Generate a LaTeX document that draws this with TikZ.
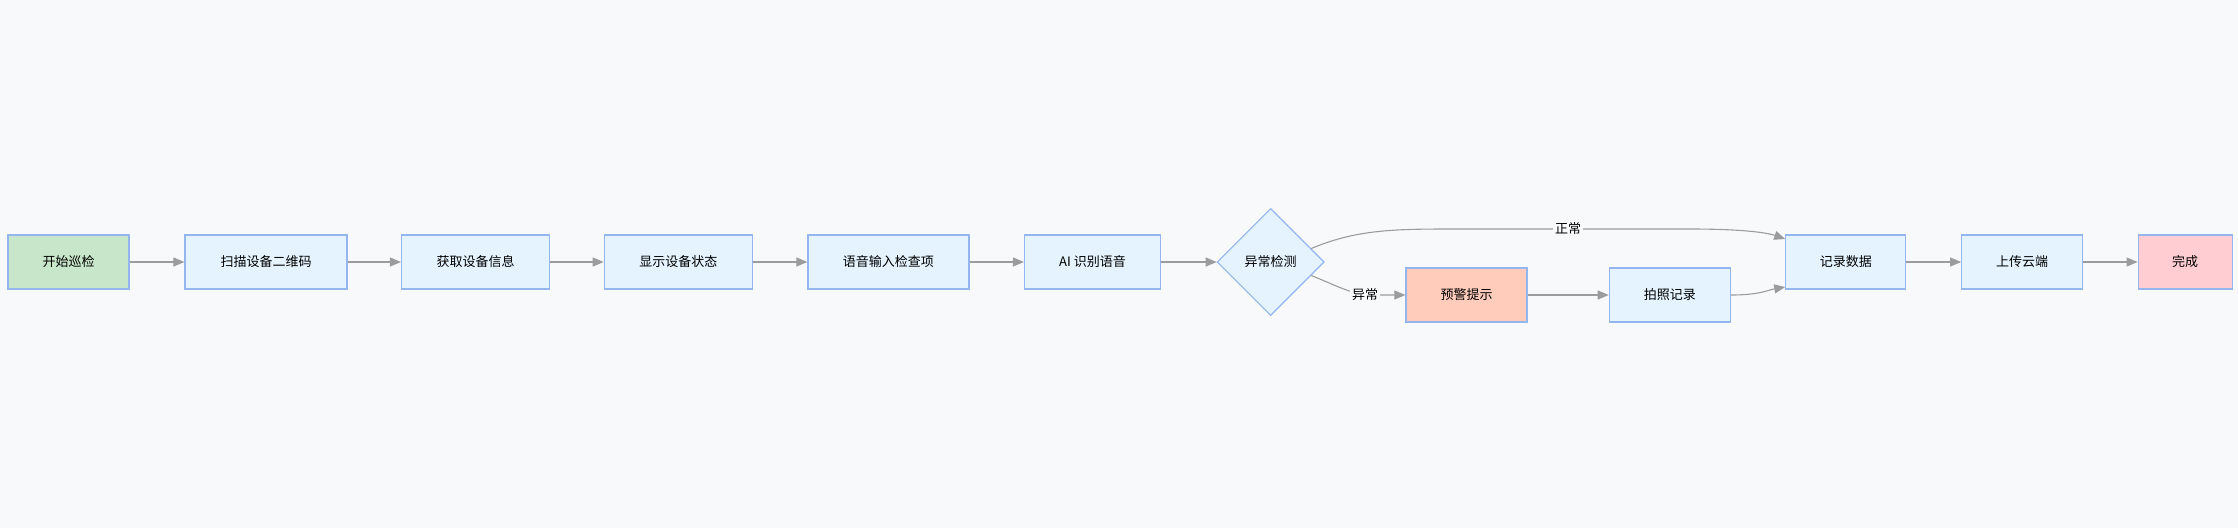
\documentclass[tikz,border=0pt]{standalone}
\usepackage{fontspec}
\setmainfont{Noto Sans CJK SC}
\usetikzlibrary{shapes.geometric,arrows.meta,calc}
\definecolor{bgc}{HTML}{F8F9FB}
\definecolor{boxfill}{HTML}{E4F3FD}
\definecolor{boxline}{HTML}{93B6EE}
\definecolor{startfill}{HTML}{C8E6C9}
\definecolor{alertfill}{HTML}{FFCCBC}
\definecolor{donefill}{HTML}{FFCDD2}
\definecolor{arrowc}{HTML}{9C9C9C}
\tikzset{
  box/.style={draw=boxline, line width=1.2pt, fill=boxfill, minimum height=54pt, inner sep=0pt, font=\fontsize{13}{15}\selectfont},
  dec/.style={diamond, draw=boxline, line width=1.1pt, fill=boxfill, minimum width=107pt, minimum height=107pt, inner sep=0pt, font=\fontsize{13}{15}\selectfont},
  conn/.style={draw=arrowc, line width=1.1pt, -{Triangle[length=11pt,width=9pt]}},
  lbl/.style={fill=bgc, inner sep=2pt, font=\fontsize{13}{15}\selectfont}
}
\begin{document}
\begin{tikzpicture}[x=1pt,y=-1pt]
\fill[bgc] (0,0) rectangle (2238,528);
\useasboundingbox (0,0) rectangle (2238,528);
\node[box, fill=startfill, minimum width=121pt] (start) at (68.5,262) {开始巡检};
\node[box, minimum width=162pt] (scan) at (266,262) {扫描设备二维码};
\node[box, minimum width=148pt] (info) at (475.5,262) {获取设备信息};
\node[box, minimum width=148pt] (show) at (678.3,262) {显示设备状态};
\node[box, minimum width=161pt] (voice) at (888.4,262) {语音输入检查项};
\node[box, minimum width=136pt] (ai) at (1092.5,262) {AI 识别语音};
\node[dec] (chk) at (1270.7,262) {异常检测};
\node[box, fill=alertfill, minimum width=121pt] (alert) at (1466.5,295) {预警提示};
\node[box, minimum width=121pt] (photo) at (1669.8,295) {拍照记录};
\node[box, minimum width=120pt] (rec) at (1845.8,262) {记录数据};
\node[box, minimum width=121pt] (up) at (2022.2,262) {上传云端};
\node[box, fill=donefill, minimum width=94pt] (done) at (2185.2,262) {完成};

\draw[conn] (start) -- (scan);
\draw[conn] (scan) -- (info);
\draw[conn] (info) -- (show);
\draw[conn] (show) -- (voice);
\draw[conn] (voice) -- (ai);
\draw[conn] (ai) -- (chk);
\coordinate (nA) at ($(chk.north)!0.75!(chk.east)$);
\coordinate (nB) at ($(chk.south)!0.75!(chk.east)$);
\draw[conn] (nA) .. controls (1360,228) and (1400,229) .. (1470,229)
  -- (1690,229) .. controls (1745,229) and (1768,233) .. ([yshift=23pt]rec.west);
\node[lbl] (lblN) at (1568,229) {正常};
\draw[conn] (nB) .. controls (1340,287) and (1352,295) .. (1375,295) -- (alert.west);
\node[lbl] (lblA) at (1365,295) {异常};
\draw[conn] (alert) -- (photo);
\draw[conn] (photo.east) .. controls (1760,295) and (1768,290) .. ([yshift=-25pt]rec.west);
\draw[conn] (rec) -- (up);
\draw[conn] (up) -- (done);
\end{tikzpicture}
\end{document}
